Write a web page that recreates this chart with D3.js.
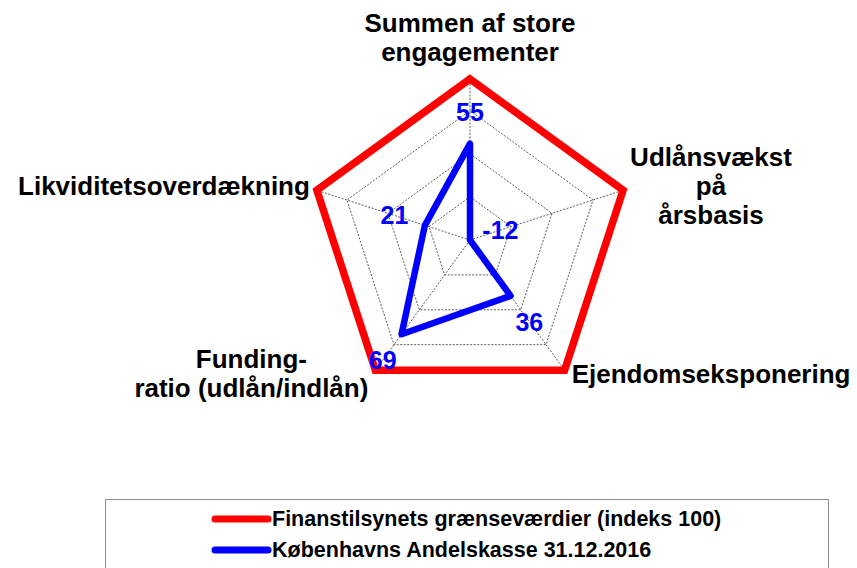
<!DOCTYPE html>
<html>
<head>
<meta charset="utf-8">
<script src="https://cdn.jsdelivr.net/npm/d3@7"></script>
<style>
    html, body { margin: 0; padding: 0; background: #ffffff; }
    svg { display: block; font-family: "Liberation Sans", Arial, sans-serif; }
</style>
</head>
<body>
<div id="chart"></div>
<script>
var categories = [
    ["Summen af store", "engagementer"],
    ["Udlånsvækst", "på", "årsbasis"],
    ["Ejendomseksponering"],
    ["Funding-", "ratio (udlån/indlån)"],
    ["Likviditetsoverdækning"]
];
var limitValues = [100, 100, 100, 100, 100];
var bankValues = [55, -12, 36, 69, 21];
var seriesNames = ["Finanstilsynets grænseværdier (indeks 100)", "Københavns Andelskasse 31.12.2016"];
var axisRange = [-12, 100];
var gridLevels = [18, 48, 78, 100];

function drawRadarChart(id) {
    var width = 857,
        height = 568;
    var cx = 470,
        cy = 240,
        radius = 161;

    var svg = d3.select(id)
        .append("svg")
        .attr("width", width)
        .attr("height", height);

    svg.append("rect")
        .attr("width", width)
        .attr("height", height)
        .attr("fill", "#ffffff");

    var g = svg.append("g")
        .attr("transform", "translate(" + cx + "," + cy + ")");

    var r = d3.scaleLinear()
        .domain(axisRange)
        .range([0, radius]);

    var angle = d3.scaleLinear()
        .domain([0, categories.length])
        .range([-Math.PI / 2, Math.PI * 1.5]);

    function point(v, i) {
        var a = angle(i);
        return [Math.cos(a) * r(v), Math.sin(a) * r(v)];
    }

    var radarLine = d3.line()
        .x(function (d) { return d[0]; })
        .y(function (d) { return d[1]; })
        .curve(d3.curveLinearClosed);

    // grid rings
    g.selectAll(".ring")
        .data(gridLevels)
        .enter()
        .append("path")
        .attr("class", "ring")
        .attr("d", function (lv) {
            return radarLine(categories.map(function (c, i) { return point(lv, i); }));
        })
        .attr("fill", "none")
        .attr("stroke", "#333")
        .attr("stroke-width", 0.8)
        .attr("stroke-dasharray", "2,1.5");

    // spokes
    g.selectAll(".spoke")
        .data(categories)
        .enter()
        .append("line")
        .attr("class", "spoke")
        .attr("x1", 0)
        .attr("y1", 0)
        .attr("x2", function (d, i) { return point(axisRange[1], i)[0]; })
        .attr("y2", function (d, i) { return point(axisRange[1], i)[1]; })
        .attr("stroke", "#333")
        .attr("stroke-width", 0.8)
        .attr("stroke-dasharray", "2,1.5");

    g.append("path")
        .attr("d", radarLine(limitValues.map(point)))
        .attr("fill", "none")
        .attr("stroke", "#ff0000")
        .attr("stroke-width", 7.5)
        .attr("stroke-linejoin", "miter");

    g.append("path")
        .attr("d", radarLine(bankValues.map(point)))
        .attr("fill", "none")
        .attr("stroke", "#0000ff")
        .attr("stroke-width", 6.5)
        .attr("stroke-linejoin", "round");

    // value labels, pushed out along the axis
    g.selectAll(".value-label")
        .data(bankValues)
        .enter()
        .append("text")
        .attr("class", "value-label")
        .attr("x", function (d, i) {
            return Math.cos(angle(i)) * (r(d) + 32);
        })
        .attr("y", function (d, i) {
            return Math.sin(angle(i)) * (r(d) + 32);
        })
        .attr("text-anchor", "middle")
        .attr("dominant-baseline", "central")
        .attr("fill", "#0000ff")
        .attr("font-weight", "bold")
        .attr("font-size", "25px")
        .text(function (d) { return d; });

    // category labels
    var lineHeight = 29,
        pad = 7;

    categories.forEach(function (lines, i) {
        var a = angle(i),
            v = point(axisRange[1], i),
            cosA = Math.cos(a),
            sinA = Math.sin(a);

        var label = g.append("text")
            .attr("class", "cat-label")
            .attr("text-anchor", "middle")
            .attr("fill", "#000")
            .attr("font-weight", "bold")
            .attr("font-size", "26px");

        var spans = label.selectAll("tspan")
            .data(lines)
            .enter()
            .append("tspan")
            .text(function (d) { return d; });

        var blockWidth = d3.max(spans.nodes(), function (n) { return n.getComputedTextLength(); });

        var x;
        if (cosA > 0.2) {
            x = v[0] + pad + blockWidth / 2;
        } else if (cosA < -0.2) {
            x = v[0] - pad - blockWidth / 2;
        } else {
            x = v[0];
        }

        var firstBaseline;
        if (sinA < -0.9) {
            firstBaseline = v[1] - 18 - (lines.length - 1) * lineHeight;
        } else {
            firstBaseline = v[1] + 5 + 9 * Math.max(0, sinA) - (lines.length - 1) / 2 * lineHeight;
        }

        spans.attr("x", x)
            .attr("y", function (d, j) { return firstBaseline + j * lineHeight; });
    });

    // legend
    var legend = svg.append("g")
        .attr("class", "legend");

    legend.append("rect")
        .attr("x", 105.5)
        .attr("y", 499.5)
        .attr("width", 723)
        .attr("height", 90)
        .attr("fill", "#ffffff")
        .attr("stroke", "#8c8c8c")
        .attr("stroke-width", 1);

    var rows = legend.selectAll(".legend-row")
        .data(seriesNames)
        .enter()
        .append("g")
        .attr("class", "legend-row")
        .attr("transform", function (d, i) {
            return "translate(0," + (519 + i * 31) + ")";
        });

    rows.append("line")
        .attr("x1", 215)
        .attr("x2", 268)
        .attr("y1", 0)
        .attr("y2", 0)
        .attr("stroke", function (d, i) { return i == 0 ? "#ff0000" : "#0000ff"; })
        .attr("stroke-width", 7)
        .attr("stroke-linecap", "round");

    rows.append("text")
        .attr("x", 272)
        .attr("y", 0)
        .attr("dominant-baseline", "central")
        .attr("fill", "#000")
        .attr("font-weight", "bold")
        .attr("font-size", "21.5px")
        .text(function (d) { return d; });
}

drawRadarChart("#chart");
</script>
</body>
</html>
